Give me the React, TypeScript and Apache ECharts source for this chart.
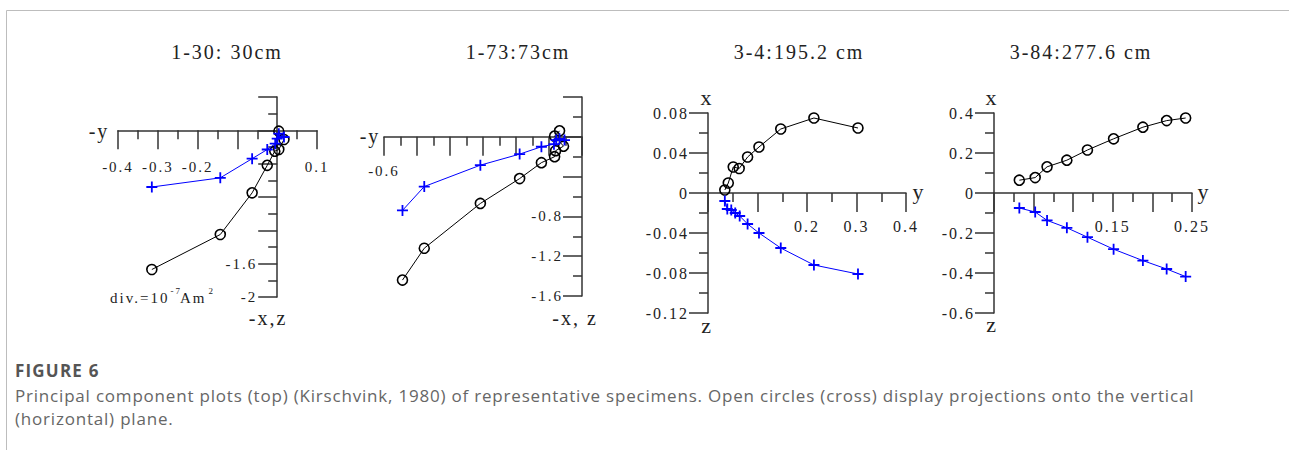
import React, { useEffect, useRef } from 'react';
import * as echarts from 'echarts';

// ---- Specimen 1-30 (30 cm): horizontal axis is -y, vertical is -x (cross) / z (circle)
const s1H = [-0.315, -0.143, -0.063, -0.025, -0.005, 0.0, 0.017, 0.004];
const s1Cross = [-0.68, -0.57, -0.34, -0.23, -0.16, -0.1, -0.08, -0.04];
const s1HCircle = [-0.315, -0.143, -0.063, -0.025, -0.006, 0.004, 0.017, 0.004];
const s1Circle = [-1.67, -1.25, -0.75, -0.42, -0.25, -0.23, -0.11, -0.01];
const s1XLabels = ['-0.4', '-0.3', '-0.2', '0.1'];
const s1YLabels = ['-1.6', '-2'];

// ---- Specimen 1-73 (73 cm)
const s2H = [-0.544, -0.478, -0.308, -0.189, -0.123, -0.085, -0.078, -0.068, -0.053];
const s2Cross = [-0.74, -0.5, -0.285, -0.174, -0.1, -0.074, -0.033, -0.02, -0.033];
const s2HCircle = [-0.544, -0.478, -0.308, -0.189, -0.123, -0.083, -0.08, -0.056, -0.083, -0.068];
const s2Circle = [-1.44, -1.12, -0.67, -0.42, -0.26, -0.2, -0.14, -0.094, 0.007, 0.06];
const s2XLabels = ['-0.6'];
const s2YLabels = ['-0.8', '-1.2', '-1.6'];

// ---- Specimen 3-4 (195.2 cm): horizontal axis is y, vertical is x (circle) / z (cross)
const s3H = [0.034, 0.039, 0.047, 0.055, 0.064, 0.08, 0.103, 0.147, 0.214, 0.303];
const s3Cross = [-0.008, -0.016, -0.017, -0.02, -0.023, -0.031, -0.04, -0.055, -0.072, -0.081];
const s3HCircle = [0.034, 0.041, 0.051, 0.063, 0.08, 0.103, 0.147, 0.214, 0.303];
const s3Circle = [0.003, 0.01, 0.026, 0.0245, 0.036, 0.046, 0.064, 0.075, 0.065];
const s3XLabels = ['0.2', '0.3', '0.4'];
const s3YLabels = ['0.08', '0.04', '0', '-0.04', '-0.08', '-0.12'];

// ---- Specimen 3-84 (277.6 cm)
const s4H = [0.032, 0.052, 0.067, 0.092, 0.118, 0.151, 0.188, 0.218, 0.242];
const s4Cross = [-0.075, -0.095, -0.137, -0.174, -0.221, -0.281, -0.338, -0.38, -0.418];
const s4Circle = [0.064, 0.077, 0.131, 0.164, 0.215, 0.271, 0.329, 0.362, 0.375];
const s4XLabels = ['0.15', '0.25'];
const s4YLabels = ['0.4', '0.2', '0', '-0.2', '-0.4', '-0.6'];

const titles = ['1-30: 30cm', '1-73:73cm', '3-4:195.2 cm', '3-84:277.6 cm'];
const captionHead = 'FIGURE 6';
const captionLines = [
  'Principal component plots (top) (Kirschvink, 1980) of representative specimens. Open circles (cross) display projections onto the vertical',
  '(horizontal) plane.',
];

// spaced serif for chart texts, tight serif for superscripts
const SERIF = 'Liberation Serif';
const SERIF_TIGHT = 'Liberation Serif, serif';
const AXIS = '#333';
const BLUE = '#0000ff';

const zip = (a: number[], b: number[]) => a.map((v, i) => [v, b[i]]);

const pick = (labels: string[]) => (v: number) => {
  const hit = labels.find((l) => Math.abs(parseFloat(l) - v) < 1e-9);
  return hit ?? '';
};

type Range = { min: number; max: number; interval: number; labels: string[]; margin: number };
type Panel = {
  grid: { left: number; top: number; width: number; height: number };
  x: Range;
  y: Range;
  fontSize: number;
  circles: number[][];
  crosses: number[][];
};

const panels: Panel[] = [
  {
    grid: { left: 118, top: 97, width: 199, height: 200 },
    x: { min: -0.4, max: 0.1, interval: 0.1, labels: s1XLabels, margin: 29 },
    y: { min: -2, max: 0.4, interval: 0.4, labels: s1YLabels, margin: 20 },
    fontSize: 15,
    circles: zip(s1HCircle, s1Circle),
    crosses: zip(s1H, s1Cross),
  },
  {
    grid: { left: 384, top: 97, width: 198, height: 199 },
    x: { min: -0.6, max: 0, interval: 0.1, labels: s2XLabels, margin: 27 },
    y: { min: -1.6, max: 0.4, interval: 0.4, labels: s2YLabels, margin: 19 },
    fontSize: 15,
    circles: zip(s2HCircle, s2Circle),
    crosses: zip(s2H, s2Cross),
  },
  {
    grid: { left: 708, top: 113, width: 198, height: 200 },
    x: { min: 0, max: 0.4, interval: 0.1, labels: s3XLabels, margin: 25 },
    y: { min: -0.12, max: 0.08, interval: 0.04, labels: s3YLabels, margin: 19 },
    fontSize: 16,
    circles: zip(s3HCircle, s3Circle),
    crosses: zip(s3H, s3Cross),
  },
  {
    grid: { left: 994, top: 113, width: 198, height: 200 },
    x: { min: 0, max: 0.25, interval: 0.05, labels: s4XLabels, margin: 25 },
    y: { min: -0.6, max: 0.4, interval: 0.2, labels: s4YLabels, margin: 19 },
    fontSize: 16,
    circles: zip(s4H, s4Circle),
    crosses: zip(s4H, s4Cross),
  },
];

const axisCommon = (fontSize: number) => ({
  type: 'value' as const,
  axisLine: { onZero: false, lineStyle: { color: AXIS, width: 1.5 } },
  axisTick: { show: true, length: 19, lineStyle: { color: AXIS, width: 1.5 } },
  minorTick: { show: true, splitNumber: 2, length: 9, lineStyle: { color: AXIS, width: 1.5 } },
  splitLine: { show: false },
  minorSplitLine: { show: false },
  axisLabel: { fontFamily: SERIF, fontSize, color: '#222', showMinLabel: true, showMaxLabel: true },
});

const textEl = (
  text: string,
  x: number,
  y: number,
  size: number,
  family: string,
  align = 'center',
  fill = '#222',
  weight: number | string = 'normal',
) => ({
  type: 'text',
  x,
  y,
  silent: true,
  style: {
    text,
    fontFamily: family,
    fontSize: size,
    fontWeight: weight,
    fill,
    align,
    textAlign: align,
    verticalAlign: 'middle',
    textVerticalAlign: 'middle',
  },
});

export default function App() {
  const ref = useRef<HTMLDivElement>(null);

  useEffect(() => {
    document.body.style.margin = '0';
    if (!ref.current) return;
    const chart = echarts.init(ref.current, undefined, { renderer: 'svg' });

    const grid = panels.map((p) => ({ ...p.grid, containLabel: false }));
    // axes cross at the origin: shift each axis from the grid edge to the zero line
    const xAxis = panels.map((p, i) => {
      const c = axisCommon(p.fontSize);
      const zeroFromBottom = (p.grid.height * (0 - p.y.min)) / (p.y.max - p.y.min);
      return {
        ...c,
        gridIndex: i,
        position: 'bottom',
        offset: -zeroFromBottom,
        min: p.x.min,
        max: p.x.max,
        interval: p.x.interval,
        axisLabel: { ...c.axisLabel, margin: p.x.margin, formatter: pick(p.x.labels) },
      };
    });
    const yAxis = panels.map((p, i) => {
      const c = axisCommon(p.fontSize);
      const zeroFromLeft = (p.grid.width * (0 - p.x.min)) / (p.x.max - p.x.min);
      return {
        ...c,
        gridIndex: i,
        position: 'left',
        offset: -zeroFromLeft,
        min: p.y.min,
        max: p.y.max,
        interval: p.y.interval,
        axisLabel: { ...c.axisLabel, margin: p.y.margin, formatter: pick(p.y.labels) },
      };
    });
    const series: any[] = [];
    panels.forEach((p, i) => {
      series.push({
        type: 'line',
        xAxisIndex: i,
        yAxisIndex: i,
        data: p.circles,
        symbol: 'circle',
        symbolSize: 10,
        silent: true,
        lineStyle: { color: '#000', width: 1 },
        itemStyle: { color: 'rgba(0,0,0,0)', borderColor: '#000', borderWidth: 1.6 },
        z: 2,
      });
      series.push({
        type: 'line',
        xAxisIndex: i,
        yAxisIndex: i,
        data: p.crosses,
        symbol: 'path://M5,0L5,10M0,5L10,5',
        symbolSize: 11,
        silent: true,
        lineStyle: { color: BLUE, width: 1 },
        itemStyle: { color: BLUE, borderColor: BLUE, borderWidth: 1.8 },
        z: 3,
      });
    });

    const titleX = [227, 518, 799, 1081];
    const graphic: any[] = [
      // outer frame
      { type: 'line', silent: true, shape: { x1: 6.5, y1: 10.5, x2: 1289, y2: 10.5 }, style: { stroke: '#bdbdbd', lineWidth: 1 } },
      { type: 'line', silent: true, shape: { x1: 6.5, y1: 10.5, x2: 6.5, y2: 450 }, style: { stroke: '#bdbdbd', lineWidth: 1 } },
      ...titles.map((t, i) => textEl(t, titleX[i], 52, 20, SERIF)),
      // axis names
      textEl('-y', 99, 131, 20, SERIF),
      textEl('-x,z', 268, 318, 20, SERIF),
      textEl('-y', 370, 136, 20, SERIF),
      textEl('-x, z', 575, 318, 20, SERIF),
      textEl('x', 707, 97, 22, SERIF),
      textEl('y', 919, 191, 22, SERIF),
      textEl('z', 707, 325, 22, SERIF),
      textEl('x', 992, 97, 22, SERIF),
      textEl('y', 1204, 191, 22, SERIF),
      textEl('z', 992, 324, 22, SERIF),
      // moment scale note: div.=10^-7 Am^2
      textEl('div.=10', 110, 298, 15, SERIF, 'left'),
      textEl('-7', 170.5, 291, 9, SERIF_TIGHT, 'left'),
      textEl('Am', 180, 298, 15, SERIF, 'left'),
      textEl('2', 208.5, 291, 9, SERIF_TIGHT, 'left'),
      // caption
      textEl(captionHead, 15, 370, 17, 'Open Sans', 'left', '#555', 700),
      ...captionLines.map((l, i) => textEl(l, 15, 395 + i * 23, 17, 'Open Sans', 'left', '#666', 400)),
    ];

    chart.setOption({
      animation: false,
      backgroundColor: '#fff',
      grid,
      xAxis,
      yAxis,
      series,
      graphic,
    });

    return () => chart.dispose();
  }, []);

  return (
    <>
      <style>{`
        #root svg text[style*="Liberation Serif"]:not([style*="Liberation Serif, serif"]){letter-spacing:2px}
        #root svg text[style*="Open Sans"]{letter-spacing:0.8px}
        #root svg text[style*="Open Sans"][style*="700"]{letter-spacing:1.2px}
      `}</style>
      <div ref={ref} style={{ width: 1289, height: 450 }} />
    </>
  );
}
